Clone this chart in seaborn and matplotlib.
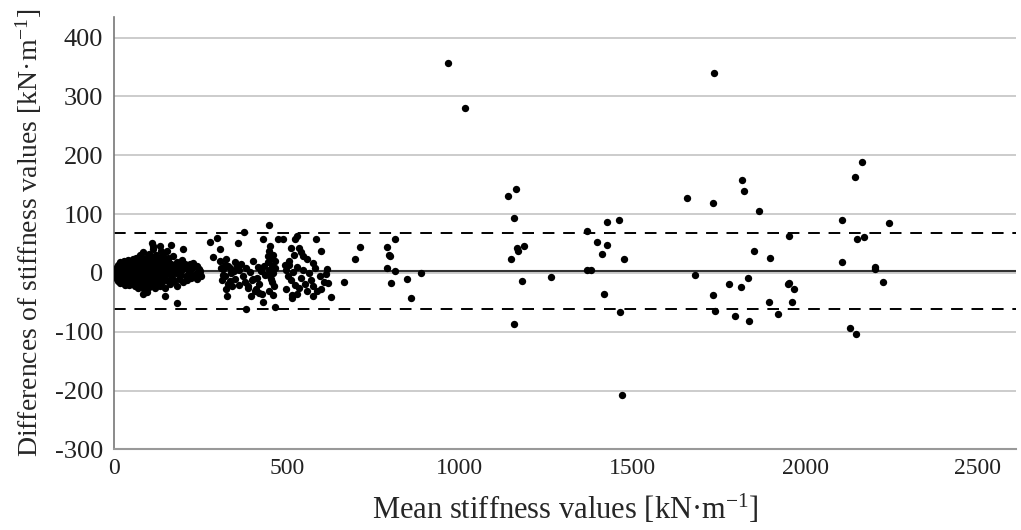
import numpy as np
import pandas as pd
import matplotlib
matplotlib.use("Agg")
import matplotlib.pyplot as plt
import seaborn as sns

# Bland-Altman : moyennes / differences de raideur (kN/m), lues sur la figure
# groupe dense (0-250)
mean_low = [5, 6, 6, 8, 8, 10, 10, 12, 12, 13, 14, 15, 16, 17, 18, 19, 20, 21, 22, 23, 24, 25, 26, 27, 28, 29,
            30, 31, 32, 33, 34, 35, 36, 37, 38, 39, 40, 41, 42, 43, 44, 45, 46, 47, 48, 49, 50, 51, 52, 53, 54,
            55, 56, 57, 58, 59, 60, 61, 62, 63, 64, 65, 66, 67, 68, 69, 70, 71, 72, 73, 74, 75, 76, 77, 78, 79,
            80, 81, 82, 83, 84, 85, 86, 87, 88, 89, 90, 91, 92, 93, 94, 95, 96, 97, 98, 99, 100, 101, 102, 103,
            104, 105, 106, 107, 108, 110, 111, 112, 113, 115, 116, 117, 118, 120, 121, 122, 123, 124, 126, 127,
            128, 130, 131, 132, 134, 135, 136, 138, 139, 140, 142, 143, 145, 147, 148, 150, 152, 154, 156, 158,
            160, 162, 164, 166, 168, 170, 172, 175, 178, 180, 182, 185, 188, 190, 193, 196, 198, 200, 204, 206,
            210, 212, 216, 220, 222, 226, 230, 234, 238, 240, 244, 248, 228, 238, 218, 233, 247, 252,
            109, 113, 136, 151, 165, 199, 149, 155, 83, 148, 180, 100, 60, 30]
diff_low = [0, 5, -5, 10, -10, 2, -3, 14, -14, 7, -8, 0, 18, -17, 4, -6, 11, -12, 1, 16, -2, 8, -15, -8, 20, 3,
            -4, 13, -19, 6, -10, 17, 0, -14, 9, -5, 22, 2, -20, 11, -7, 15, -1, -16, 5, 19, -10, 8, -3, 24, -18,
            1, 12, -8, 17, -22, 4, -13, 10, 26, -5, 0, 15, -17, 7, -25, 20, -2, 11, -9, 30, 2, -15, 16, -6, 23,
            -20, 6, -12, 13, 35, -3, 19, -28, 3, 9, -9, 25, -17, 0, 14, -33, 6, 21, -6, 32, -13, 10, -22, 18,
            1, -10, 28, 5, -19, 12, 40, -4, 22, -14, 8, -26, 16, 2, -8, 30, -18, 11, -2, 20,
            -12, 6, 45, -22, 14, -6, 25, 0, -15, 9, 33, -10, 18, -4, -25, 12, 4, -13, 22, -2,
            8, -18, 15, 2, -8, 28, -14, 10, 0, -22, 18, 5, -10, 12, -3, 22, -15, 6, 15, -5,
            -12, 10, 2, 16, -8, 8, -3, 12, 0, -10, 6, -4, 17, 11, 8, -3, 3, -6,
            51, 45, 37, 37, 48, 40, 23, 26, -36, -39, -51, -24, 22, -20]

# groupe intermediaire (270-650)
mean_mid = [277, 297, 305, 287, 358, 374, 449, 430, 474, 488, 522, 528, 584, 599, 512, 536, 541, 546, 557, 449,
            445, 575, 616, 493, 507,
            305, 310, 315, 320, 324, 329, 314, 339, 319, 334, 324, 326, 345, 350, 355, 360, 340, 348, 330, 312,
            362, 336,
            368, 372, 378, 382, 388, 392, 398, 402, 408, 412, 415, 420, 424, 428, 432, 436, 382, 396, 411, 420,
            387, 401,
            445, 448, 450, 452, 455, 456, 458, 460, 462, 464, 459, 464, 452, 447, 466, 454, 431,
            498, 504, 512, 518, 522, 528, 534, 540, 546, 552, 558, 564, 570, 576, 582, 588, 594, 599, 606, 612,
            618, 575, 515, 515, 627, 498, 530, 505, 520]
diff_mid = [53, 60, 40, 27, 51, 70, 82, 57, 57, 57, 58, 62, 58, 38, 42, 42, 36, 28, 23, 37,
            28, 17, 6, 14, 14,
            20, 8, -3, 14, 23, 11, 6, 0, -6, -14, -28, -40, 3, -10, 12, -20, -22, 18, -18, -12,
            5, 8,
            15, -5, -15, 8, -25, 2, -12, 20, -30, -8, 10, -18, 3, -35, 12, -4, -62, -40, -28, -34,
            -23, -11,
            18, 5, -5, 25, 12, -15, 0, 30, -22, 8, -37, -58, 45, -30, 20, -10, -49,
            5, -5, -12, 2, -20, 10, -26, -8, 5, -18, -30, 0, -12, -22, 8, -31, -5, -28, -15, -2,
            -17, -40, -43, -37, -41, -28, -35, 20, 30]

# points epars (> 650)
mean_high = [665, 696, 712, 788, 794, 799, 812, 788, 812, 802, 846, 858, 888, 966, 1015, 1141, 1162, 1157,
             1165, 1169, 1187, 1149, 1181, 1157, 1264, 1368, 1368, 1381, 1396, 1425, 1462, 1425, 1412, 1475,
             1417, 1464, 1470, 1658, 1733, 1737, 1681, 1732, 1740, 1818, 1822, 1866, 1853, 1897, 1835, 1780,
             1814, 1796, 1838, 1895, 1921, 1954, 1949, 1952, 1968, 1962, 2106, 2108, 2144, 2164, 2151, 2171,
             2203, 2203, 2224, 2243, 2131, 2146]
diff_high = [-15, 24, 44, 44, 31, 29, 57, 8, 4, -17, -10, -42, 0, 356, 280, 131, 143, 93,
             42, 37, 46, 24, -13, -86, -7, 72, 5, 5, 53, 86, 90, 47, 33, 24,
             -36, -67, -207, 128, 118, 339, -3, -37, -65, 158, 140, 106, 37, 25, -9, -18,
             -24, -74, -82, -49, -69, 62, -19, -17, -28, -50, 90, 19, 163, 189, 58, 61,
             10, 6, -16, 85, -93, -103]

# biais et limites d'accord
bias = 3.5
loa_up = 68
loa_low = -61

df = pd.DataFrame({
    "mean": mean_low + mean_mid + mean_high,
    "diff": diff_low + diff_mid + diff_high,
})

sns.set_style("white")
plt.rcParams['font.family'] = ['Liberation Serif', 'DejaVu Serif']
plt.rcParams['axes.unicode_minus'] = False
plt.rcParams['mathtext.fontset'] = 'custom'
plt.rcParams['mathtext.rm'] = 'Liberation Serif'
plt.rcParams['mathtext.it'] = 'Liberation Serif:italic'

fig = plt.figure(figsize=(10.21, 5.30), dpi=100)
ax = fig.add_axes([0.112, 0.152, 0.883, 0.816])

ax.set_yticks(range(-300, 401, 100))
ax.set_xticks(range(0, 2501, 500))
ax.set_xlim(0, 2610)
ax.set_ylim(-300, 435)
ax.yaxis.grid(True, color='#c8c8c8', linewidth=1.3)
ax.xaxis.grid(False)
ax.set_axisbelow(True)

ax.axhline(bias, color='#333333', linewidth=1.5, zorder=2)
ax.axhline(loa_up, color='black', linewidth=1.4, linestyle=(0, (6, 4.5)), zorder=2)
ax.axhline(loa_low, color='black', linewidth=1.4, linestyle=(0, (6, 4.5)), zorder=2)

sns.scatterplot(data=df, x="mean", y="diff", ax=ax, color='black', s=28, linewidth=0, zorder=3)

for s in ['top', 'right']:
    ax.spines[s].set_visible(False)
ax.spines['left'].set_color('#777777')
ax.spines['bottom'].set_color('#999999')
ax.spines['left'].set_linewidth(1.2)
ax.spines['bottom'].set_linewidth(1.5)
ax.tick_params(length=0, colors='#222222')
ax.tick_params(axis='y', labelsize=19, pad=8)
ax.tick_params(axis='x', labelsize=17, pad=6)

ax.set_xlabel(r"Mean stiffness values [kN·m$^{-1}$]", fontsize=22, labelpad=10)
ax.set_ylabel(r"Differences of stiffness values [kN·m$^{-1}$]", fontsize=20, labelpad=8)

plt.savefig("out.png", dpi=100)
